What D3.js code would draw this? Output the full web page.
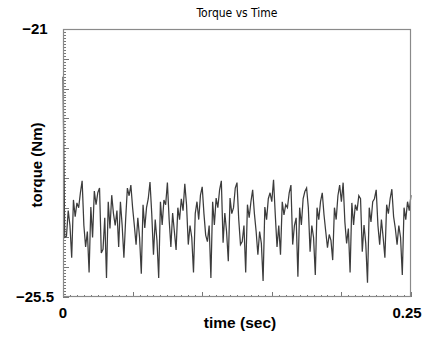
<!DOCTYPE html>
<html><head><meta charset="utf-8">
<script src="https://cdn.jsdelivr.net/npm/d3@7"></script>
<style>body{margin:0;background:#fff}svg{display:block}</style>
</head><body>
<script>
// ---- data ----
const title = "Torque vs Time";
const xLabel = "time (sec)";
const yLabel = "torque (Nm)";
const xDomain = [0, 0.25];
const yDomain = [-25.5, -21];
const xTickLabels = [0, 0.25];
const yTickLabels = [-21, -25.5];
const sampleStep = 0.00125; // seconds between samples
const torque = [
  -21.8, -24.5, -24.48, -24.05, -24.3,
  -24.84,
  -23.87, -24.15, -23.92, -24.0, -23.75, -23.55, -24.3, -24.66, -24.4,
  -25.09,
  -23.99, -24.5, -23.72, -23.95, -23.75, -23.67, -24.76, -24.7, -24.17,
  -25.18,
  -23.9, -24.35, -23.79, -24.1, -24.3, -24.05, -24.66, -23.9, -24.3,
  -24.84,
  -24.2, -23.67, -23.8, -23.62, -24.0, -24.3, -24.62, -24.17, -24.5,
  -25.11,
  -23.95, -24.34, -24.0, -23.85, -23.57, -24.1, -24.79, -24.2, -24.55,
  -25.18,
  -23.9, -24.29, -23.87, -23.95, -23.58, -24.2, -24.66, -24.09, -24.4,
  -24.71,
  -24.0, -24.2, -23.85, -24.05, -23.6, -23.95, -24.62, -24.3, -24.5,
  -25.09,
  -24.1, -23.9, -24.2, -23.79, -23.65, -24.1, -24.46, -24.57, -24.3,
  -25.18,
  -23.9, -24.29, -23.84, -24.0, -23.7, -23.55, -24.59, -24.09, -24.4,
  -24.9,
  -23.84, -24.1, -24.0, -23.67, -23.58, -24.2, -24.62, -24.57, -24.3,
  -25.09,
  -23.95, -24.17, -23.9, -23.7, -24.1, -24.4, -24.79, -24.4, -24.6,
  -25.23,
  -23.99, -24.2, -23.85, -23.75, -23.9, -23.53, -24.12, -24.66, -24.3,
  -24.79,
  -23.9, -24.12, -23.95, -24.0, -23.75, -23.62, -24.62, -24.3, -24.17,
  -25.16,
  -24.0, -24.29, -23.85, -23.73, -23.67, -24.0, -24.74, -24.3, -24.5,
  -25.13,
  -24.0, -24.2, -23.9, -23.75, -24.12, -24.4, -24.67, -24.45, -24.55,
  -24.88,
  -24.0, -24.2, -23.8, -23.62, -23.9, -23.58, -24.24, -24.6, -24.35,
  -25.09,
  -23.92, -24.29, -23.95, -24.05, -23.8, -23.85, -24.74, -24.29, -24.6,
  -25.26,
  -24.0, -24.24, -23.9, -23.85, -23.7, -24.3, -24.62, -24.2, -24.5,
  -24.84,
  -23.95, -24.1, -23.85, -23.69, -24.15, -24.35, -24.62, -24.3, -24.5,
  -25.13,
  -24.0, -24.2, -23.9, -24.05, -23.79
];

// ---- chart ----
const W = 428, H = 338;
const m = {left: 63, top: 29, right: 411, bottom: 297};
const svg = d3.select("body").append("svg").attr("width", W).attr("height", H);

const x = d3.scaleLinear().domain(xDomain).range([m.left, m.right]);
const y = d3.scaleLinear().domain(yDomain).range([m.bottom, m.top]);

const font = "'Liberation Sans', Arial, sans-serif";

// minor/major ticks on left axis (inside)
const yMinor = d3.range(0, 91).map(i => yDomain[0] + i * 0.05);
svg.append("g").selectAll("line").data(yMinor).join("line")
  .attr("x1", m.left).attr("x2", d => m.left + (Math.abs(Math.round(d * 2) - d * 2) < 1e-6 ? 6 : 3))
  .attr("y1", d => Math.round(y(d)) + 0.5).attr("y2", d => Math.round(y(d)) + 0.5)
  .attr("stroke", "#777").attr("stroke-width", 1);

// ticks on bottom axis (inside)
const xMinor = d3.range(0, 51).map(i => i * 0.005);
svg.append("g").selectAll("line").data(xMinor).join("line")
  .attr("x1", d => Math.round(x(d)) + 0.5).attr("x2", d => Math.round(x(d)) + 0.5)
  .attr("y1", m.bottom).attr("y2", (d, i) => m.bottom - (i % 10 === 0 ? 5 : 2))
  .attr("stroke", "#777").attr("stroke-width", 1);

// data line
const line = d3.line().x((d, i) => x(i * sampleStep)).y(d => y(d));
svg.append("path").datum(torque).attr("d", line)
  .attr("fill", "none").attr("stroke", "#3c3c3c").attr("stroke-width", 1.25)
  .attr("stroke-linejoin", "miter");

// frame
svg.append("rect").attr("x", m.left + 0.5).attr("y", m.top + 0.5)
  .attr("width", m.right - m.left - 1).attr("height", m.bottom - m.top - 1)
  .attr("fill", "none").attr("stroke", "#8a8a8a").attr("stroke-width", 1.2);

// y tick labels
const fmt = v => String(v).replace("-", "\u2212");
svg.append("g").selectAll("text").data(yTickLabels).join("text")
  .attr("x", 35).attr("y", d => y(d)).attr("dy", "0.36em")
  .attr("text-anchor", "middle")
  .attr("font-family", font).attr("font-weight", "bold").attr("font-size", 15)
  .text(fmt);

// x tick labels
svg.append("g").selectAll("text").data(xTickLabels).join("text")
  .attr("x", d => x(d) - (d === xDomain[1] ? 4 : 0)).attr("y", 318)
  .attr("text-anchor", "middle")
  .attr("font-family", font).attr("font-weight", "bold").attr("font-size", 15)
  .text(d => String(d));

// axis titles
svg.append("text").attr("x", 240).attr("y", 328).attr("text-anchor", "middle")
  .attr("font-family", font).attr("font-weight", "bold").attr("font-size", 15.5)
  .text(xLabel);
svg.append("text").attr("transform", "translate(42,165) rotate(-90)")
  .attr("text-anchor", "middle")
  .attr("font-family", font).attr("font-weight", "bold").attr("font-size", 15)
  .text(yLabel);

// title
svg.append("text").attr("x", (m.left + m.right) / 2).attr("y", 17).attr("text-anchor", "middle")
  .attr("font-family", "'DejaVu Sans', sans-serif").attr("font-stretch", "condensed")
  .attr("font-size", 12).attr("fill", "#000")
  .text(title);
</script>
</body></html>
